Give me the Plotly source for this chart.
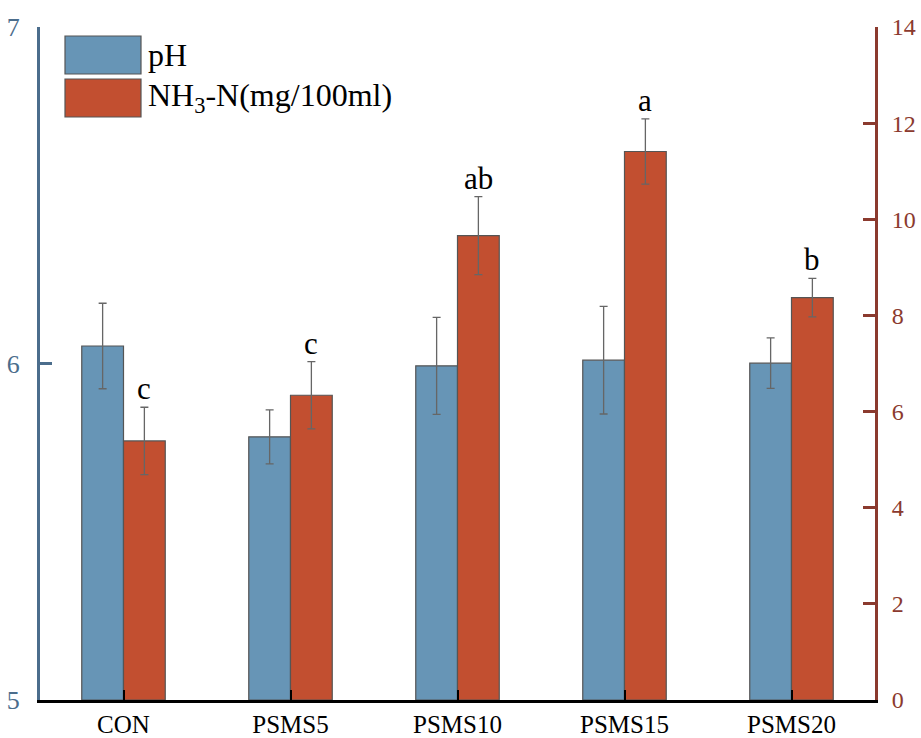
import plotly.graph_objects as go

categories = ["CON", "PSMS5", "PSMS10", "PSMS15", "PSMS20"]
ph_values = [6.052, 5.782, 5.993, 6.010, 6.001]
ph_errors = [0.127, 0.080, 0.144, 0.160, 0.075]
nh3_values = [5.39, 6.34, 9.66, 11.41, 8.37]
nh3_errors = [0.70, 0.70, 0.81, 0.68, 0.40]
letters = ["c", "c", "ab", "a", "b"]

BLUE = "#6795B6"
RED = "#C24F30"
LEFT_AX = "#4B6D8C"
RIGHT_AX = "#8B3A2E"
FONT = "Times New Roman, Liberation Serif, DejaVu Serif, serif"

x = list(range(len(categories)))

fig = go.Figure()
fig.add_trace(go.Bar(
    x=x, y=[v - 5 for v in ph_values], base=5, width=0.25, offset=-0.25,
    marker=dict(color=BLUE, line=dict(color="#555555", width=1.2)),
    error_y=dict(type="data", array=ph_errors, color="#666666", thickness=1.3, width=4),
    name="pH", yaxis="y", showlegend=False,
))
fig.add_trace(go.Bar(
    x=x, y=nh3_values, width=0.25, offset=0,
    marker=dict(color=RED, line=dict(color="#555555", width=1.2)),
    error_y=dict(type="data", array=nh3_errors, color="#666666", thickness=1.3, width=4),
    name="NH3-N", yaxis="y2", showlegend=False,
))

for i, (v, e, t) in enumerate(zip(nh3_values, nh3_errors, letters)):
    fig.add_annotation(x=i + 0.125, y=v + e, xref="x", yref="y2", text=t,
                       showarrow=False, yanchor="bottom", yshift=-1,
                       font=dict(family=FONT, size=31, color="black"))

# legend drawn manually with large swatches
legend_items = [("pH", BLUE), ("NH<sub>3</sub>-N(mg/100ml)", RED)]
for k, (lab, col) in enumerate(legend_items):
    y0 = 1 - (36 + 43 * k - 27) / 673
    y1 = 1 - (74 + 43 * k - 27) / 673
    fig.add_shape(type="rect", xref="paper", yref="paper",
                  x0=(65 - 40) / 835, x1=(141 - 40) / 835, y0=y1, y1=y0,
                  fillcolor=col, line=dict(color="#555555", width=1.2))
    fig.add_annotation(xref="paper", yref="paper", x=(146 - 40) / 835, y=(y0 + y1) / 2,
                       text=lab, showarrow=False, xanchor="left", yanchor="middle",
                       font=dict(family=FONT, size=32, color="black"))

fig.update_layout(
    width=921, height=738,
    margin=dict(l=40, r=46, t=27, b=38, autoexpand=False),
    paper_bgcolor="white", plot_bgcolor="white",
    font=dict(family=FONT, size=24),
    xaxis=dict(range=[-0.5, 4.5], tickvals=x, ticktext=categories, automargin=False,
               showline=True, linecolor="black", linewidth=3,
               ticks="inside", ticklen=10, tickwidth=2, tickcolor="black",
               showgrid=False, zeroline=False, ticklabelstandoff=0,
               tickfont=dict(family=FONT, size=25, color="black")),
    yaxis=dict(range=[5, 7], tickvals=[5, 6, 7], showline=True, linecolor=LEFT_AX,
               linewidth=3, ticks="inside", ticklen=12, tickwidth=3, tickcolor=LEFT_AX,
               showgrid=False, zeroline=False, ticklabelstandoff=12, automargin=False,
               tickfont=dict(family=FONT, size=26, color=LEFT_AX)),
    yaxis2=dict(range=[0, 14], tickvals=list(range(0, 15, 2)), overlaying="y", side="right",
                showline=True, linecolor=RIGHT_AX, linewidth=3, ticks="inside", ticklen=12,
                tickwidth=3, tickcolor=RIGHT_AX, showgrid=False, zeroline=False,
                ticklabelstandoff=9, automargin=False,
                tickfont=dict(family=FONT, size=24, color=RIGHT_AX)),
    bargap=0.5,
)

fig.write_html("out.html")
